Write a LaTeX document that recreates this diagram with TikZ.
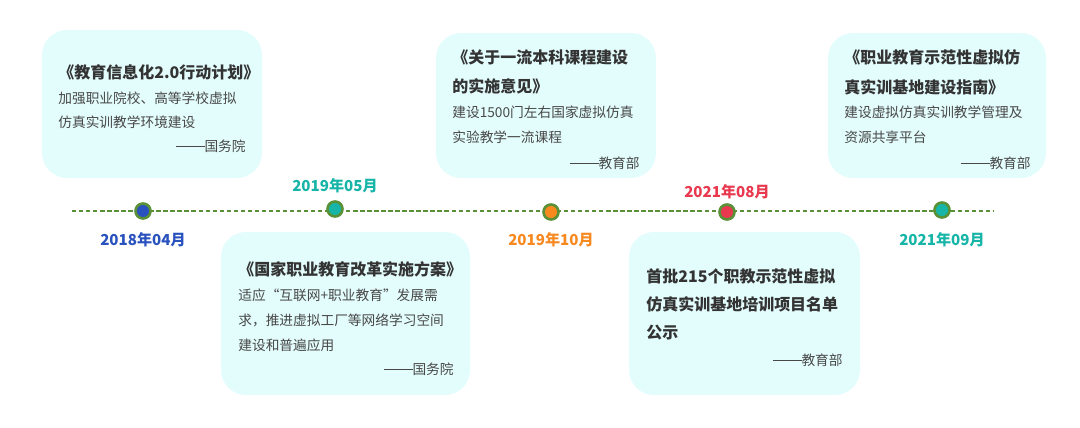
\documentclass[tikz,border=0pt]{standalone}
\usepackage{fontspec}
\setmainfont{Noto Sans CJK SC}
\newfontfamily\cjk{Noto Sans CJK SC}
\definecolor{boxfill}{HTML}{E3FCFC}
\definecolor{lineclr}{HTML}{5A9137}
\definecolor{dblue}{HTML}{2A52BE}
\definecolor{dteal}{HTML}{16B5A8}
\definecolor{dorange}{HTML}{F7891F}
\definecolor{dred}{HTML}{E8394F}
\definecolor{titleclr}{HTML}{333333}
\definecolor{bodyclr}{HTML}{484848}
\newcommand{\srcdash}{\rule[0.32em]{16pt}{0.45pt}}
\begin{document}
\begin{tikzpicture}[x=0.02cm,y=-0.02cm,
    card/.style={fill=boxfill,rounded corners=0.5cm},
    ttl/.style={anchor=west,inner sep=0pt,text=titleclr,font=\cjk\fontsize{9.1}{10}\selectfont\bfseries},
    txt/.style={anchor=west,inner sep=0pt,text=bodyclr,font=\cjk\fontsize{7.8}{9}\selectfont},
    src/.style={anchor=east,inner sep=0pt,text=bodyclr,font=\cjk\fontsize{7.8}{9}\selectfont},
    date/.style={inner sep=0pt,font=\cjk\fontsize{8.6}{10}\selectfont\bfseries},
    dot/.style={circle,draw=lineclr,line width=1.5pt,minimum size=0.3cm,inner sep=0pt}]

    \useasboundingbox (0,0) rectangle (1080,427);

    % cards
    \path[card] (42,30) rectangle (262,178);
    \path[card] (436,33) rectangle (656,178);
    \path[card] (828,33) rectangle (1046,178);
    \path[card] (221,232) rectangle (470,395);
    \path[card] (629,232) rectangle (860,395);

    % timeline
    \coordinate (tl-start) at (72,211);
    \coordinate (tl-end) at (993,211);
    \path[draw,lineclr,line width=0.6pt,dash pattern=on 2.5pt off 1.5pt] (tl-start) -- (tl-end);

    \node[dot,fill=dblue] (d1) at (143,211) {};
    \node[dot,fill=dteal] (d2) at (335,209) {};
    \node[dot,fill=dorange] (d3) at (551,212) {};
    \node[dot,fill=dred] (d4) at (727,212) {};
    \node[dot,fill=dteal] (d5) at (942,210) {};

    \node[date,text=dblue] (t1) at (143,240) {2018年04月};
    \node[date,text=dteal] (t2) at (335,186) {2019年05月};
    \node[date,text=dorange] (t3) at (551,240) {2019年10月};
    \node[date,text=dred] (t4) at (727,192) {2021年08月};
    \node[date,text=dteal] (t5) at (942,240) {2021年09月};

    % 2018
    \node[ttl] (a1) at (58,72) {《教育信息化2.0行动计划》};
    \node[txt] (a2) at (58,98) {加强职业院校、高等学校虚拟};
    \node[txt] (a3) at (58,122) {仿真实训教学环境建设};
    \node[src] (a4) at (246,146) {\srcdash 国务院};

    % 2019-10
    \node[ttl] (b1) at (452,57) {《关于一流本科课程建设};
    \node[ttl] (b2) at (452,86) {的实施意见》};
    \node[txt] (b3) at (452,112) {建设1500门左右国家虚拟仿真};
    \node[txt] (b4) at (452,137) {实验教学一流课程};
    \node[src] (b5) at (640,163) {\srcdash 教育部};

    % 2021-09
    \node[ttl] (c1) at (844,57) {《职业教育示范性虚拟仿};
    \node[ttl] (c2) at (844,87) {真实训基地建设指南》};
    \node[txt] (c3) at (844,112) {建设虚拟仿真实训教学管理及};
    \node[txt] (c4) at (844,137) {资源共享平台};
    \node[src] (c5) at (1031,163) {\srcdash 教育部};

    % 2019-05
    \node[ttl] (e1) at (238,269) {《国家职业教育改革实施方案》};
    \node[txt] (e2) at (238,295) {适应“互联网+职业教育”发展需};
    \node[txt] (e3) at (238,320) {求，推进虚拟工厂等网络学习空间};
    \node[txt] (e4) at (238,345) {建设和普遍应用};
    \node[src] (e5) at (454,369) {\srcdash 国务院};

    % 2021-08
    \node[ttl] (f1) at (646,276) {首批215个职教示范性虚拟};
    \node[ttl] (f2) at (646,304) {仿真实训基地培训项目名单};
    \node[ttl] (f3) at (646,333) {公示};
    \node[src] (f4) at (843,360) {\srcdash 教育部};
\end{tikzpicture}
\end{document}
